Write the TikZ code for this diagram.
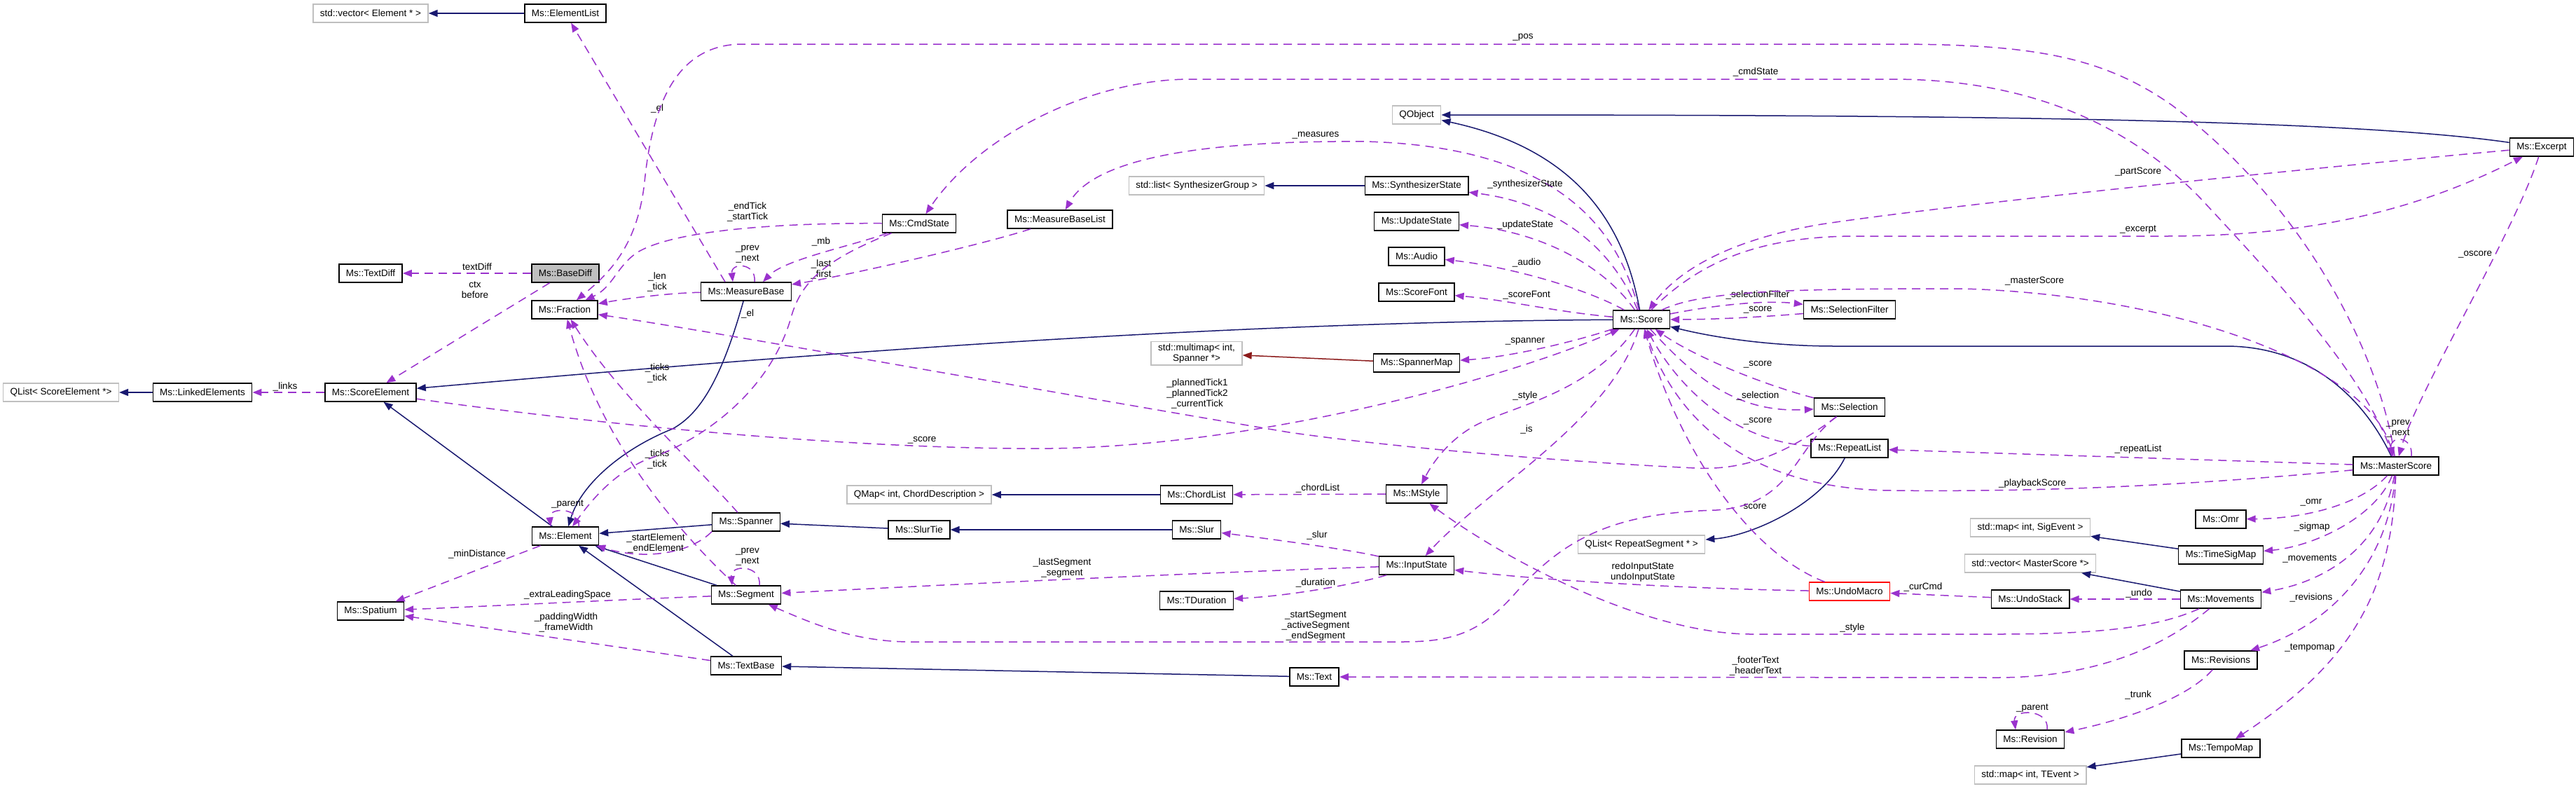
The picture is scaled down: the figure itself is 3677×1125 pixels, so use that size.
\documentclass[tikz,border=0pt]{standalone}
\usepackage{fontspec}
\setmainfont{Liberation Sans}
\usepackage{xcolor}
\usepackage{tikz}
\usetikzlibrary{arrows.meta}
\definecolor{inhblue}{HTML}{191970}
\definecolor{usepurple}{HTML}{9A32CD}
\definecolor{tmplred}{HTML}{8B1A1A}
\definecolor{extgray}{HTML}{BFBFBF}

\begin{document}
\begin{tikzpicture}[
  x=1pt, y=-1pt,
  font=\fontsize{13.5}{15}\selectfont,
  cls/.style={
    rectangle, draw=black, line width=1.4pt, fill=white,
    minimum height=26pt, inner xsep=10pt, inner ysep=3pt, align=center
  },
  ext/.style={cls, draw=extgray},
  root/.style={cls, fill=extgray},
  inh/.style={-{Triangle[length=13pt,width=10pt]}, line width=1.5pt, draw=inhblue},
  tmpl/.style={inh, draw=tmplred},
  usage/.style={-{Triangle[length=13pt,width=10pt]}, line width=1.5pt, draw=usepurple,
    dash pattern=on 12pt off 8pt},
  lbl/.style={inner sep=0pt, align=center, text=black},
]
\fill[white] (0,0) rectangle (3677,1125);
\useasboundingbox (0,0) rectangle (3677,1125);

% Left block: diff, element hierarchy
\node[ext]  (vecelem)     at (529,19)   {std::vector< Element * >};
\node[cls]  (elementlist) at (807,19)   {Ms::ElementList};
\node[cls]  (textdiff)    at (529,390)  {Ms::TextDiff};
\node[root] (basediff)    at (807,390)  {Ms::BaseDiff};
\node[cls]  (fraction)    at (806,442)  {Ms::Fraction};
\node[ext]  (qlistse)     at (87,560)   {QList< ScoreElement *>};
\node[cls]  (linked)      at (289,560)  {Ms::LinkedElements};
\node[cls]  (scoreel)     at (529,560)  {Ms::ScoreElement};
\node[cls]  (element)     at (807,765)  {Ms::Element};
\node[cls]  (spatium)     at (529,872)  {Ms::Spatium};

% Middle-left column
\node[cls]  (cmdstate)    at (1312,319) {Ms::CmdState};
\node[cls]  (mblist)      at (1513,313) {Ms::MeasureBaseList};
\node[cls]  (measurebase) at (1065,416) {Ms::MeasureBase};
\node[cls]  (spanner)     at (1065,745) {Ms::Spanner};
\node[cls]  (segment)     at (1065,849) {Ms::Segment};
\node[cls]  (textbase)    at (1065,950) {Ms::TextBase};
\node[ext]  (qmapchord)   at (1312,706) {QMap< int, ChordDescription >};
\node[cls]  (slurtie)     at (1312,756) {Ms::SlurTie};

% Middle column
\node[ext]  (synthlist)   at (1708,265) {std::list< SynthesizerGroup >};
\node[ext]  (spmultimap)  at (1708,504) {std::multimap< int,\\Spanner *>};
\node[cls]  (chordlist)   at (1708,706) {Ms::ChordList};
\node[cls]  (slur)        at (1708,756) {Ms::Slur};
\node[cls]  (tduration)   at (1708,857) {Ms::TDuration};
\node[cls]  (text)        at (1876,966) {Ms::Text};

% Score column
\node[ext]  (qobject)     at (2022,164) {QObject};
\node[cls]  (synthstate)  at (2022,265) {Ms::SynthesizerState};
\node[cls]  (updatestate) at (2022,316) {Ms::UpdateState};
\node[cls]  (audio)       at (2022,366) {Ms::Audio};
\node[cls]  (scorefont)   at (2022,417) {Ms::ScoreFont};
\node[cls]  (spannermap)  at (2022,518) {Ms::SpannerMap};
\node[cls]  (mstyle)      at (2022,705) {Ms::MStyle};
\node[cls]  (inputstate)  at (2022,807) {Ms::InputState};
\node[cls]  (score)       at (2343,456) {Ms::Score};
\node[ext]  (qlistrep)    at (2343,777) {QList< RepeatSegment * >};
\node[cls]  (selfilter)   at (2640,442) {Ms::SelectionFilter};
\node[cls]  (selection)   at (2640,581) {Ms::Selection};
\node[cls]  (repeatlist)  at (2640,640) {Ms::RepeatList};
\node[cls, draw=red] (undomacro) at (2640,844) {Ms::UndoMacro};

% Right block: master score
\node[cls]  (excerpt)     at (3628,210) {Ms::Excerpt};
\node[cls]  (masterscore) at (3420,665) {Ms::MasterScore};
\node[cls]  (omr)         at (3170,741) {Ms::Omr};
\node[ext]  (sigmapbase)  at (2898,753) {std::map< int, SigEvent >};
\node[cls]  (timesigmap)  at (3170,792) {Ms::TimeSigMap};
\node[ext]  (vecmaster)   at (2898,804) {std::vector< MasterScore *>};
\node[cls]  (undostack)   at (2898,855) {Ms::UndoStack};
\node[cls]  (movements)   at (3170,855) {Ms::Movements};
\node[cls]  (revisions)   at (3170,942) {Ms::Revisions};
\node[cls]  (revision)    at (2898,1055) {Ms::Revision};
\node[cls]  (tempomap)    at (3170,1068) {Ms::TempoMap};
\node[ext]  (teventmap)   at (2898,1106) {std::map< int, TEvent >};

% Inheritance
\draw[inh] (elementlist) -- (vecelem);
\draw[inh] (linked) -- (qlistse);
\draw[inh] (element) -- (scoreel);
\draw[inh] (score) .. controls (1700,460) and (1100,510) .. (scoreel);
\draw[inh] (score) .. controls (2320,330) and (2260,215) .. (qobject);
\draw[inh] (excerpt) .. controls (3350,170) and (2800,164) .. (qobject);
\draw[inh] (masterscore) .. controls (3370,560) and (3290,494) .. (3177,494) -- (2620,494)
  .. controls (2520,494) and (2440,480) .. (score);
\draw[inh] (measurebase) .. controls (1030,540) and (1000,590) .. (960,612)
  .. controls (890,640) and (830,690) .. (element);
\draw[inh] (spanner) -- (element);
\draw[inh] (segment) -- (element);
\draw[inh] (textbase) -- (element);
\draw[inh] (slurtie) -- (spanner);
\draw[inh] (slur) -- (slurtie);
\draw[inh] (text) -- (textbase);
\draw[inh] (chordlist) -- (qmapchord);
\draw[inh] (synthstate) -- (synthlist);
\draw[tmpl] (spannermap) -- (spmultimap);
\draw[inh] (repeatlist) .. controls (2600,720) and (2500,765) .. (qlistrep);
\draw[inh] (timesigmap) -- (sigmapbase);
\draw[inh] (movements) -- (vecmaster);
\draw[inh] (tempomap) -- (teventmap);

% Usage: left block
\draw[usage] (basediff) -- (textdiff) node[lbl] at (681,381) {textDiff};
\draw[usage] (basediff) -- (scoreel) node[lbl] at (678,414) {ctx\\before};
\draw[usage] (scoreel) -- (linked) node[lbl] at (407,552) {\_links};
\draw[usage] ([xshift=-30pt]measurebase.north) -- (elementlist) node[lbl] at (938,155) {\_el};
\draw[usage] (element) -- (spatium) node[lbl] at (681,791) {\_minDistance};
\draw[usage] (segment) .. controls (900,855) and (700,865) .. (spatium)
  node[lbl] at (810,849) {\_extraLeadingSpace};
\draw[usage] (textbase) -- (spatium) node[lbl] at (808,888) {\_paddingWidth\\\_frameWidth};
\draw[usage] ([xshift=19pt]element.north) .. controls +(3,-28) and +(-3,-28) .. ([xshift=-21pt]element.north)
  node[lbl] at (810,720) {\_parent};
\draw[usage] (spanner.south west) .. controls (985,790) and (920,800) .. (element)
  node[lbl] at (936,775) {\_startElement\\\_endElement};
\draw[usage] (spanner) .. controls (990,660) and (880,560) .. (fraction) node[lbl] at (938,532) {\_ticks\\\_tick};
\draw[usage] (segment) .. controls (980,770) and (860,640) .. (fraction) node[lbl] at (938,655) {\_ticks\\\_tick};
\draw[usage] ([xshift=19pt]segment.north) .. controls +(3,-30) and +(-3,-30) .. ([xshift=-20pt]segment.north)
  node[lbl] at (1067,795) {\_prev\\\_next};
\draw[usage] (measurebase) .. controls (960,418) and (900,425) .. (fraction) node[lbl] at (938,402) {\_len\\\_tick};
\draw[usage] ([xshift=12pt]measurebase.north) .. controls +(3,-28) and +(-3,-28) .. ([xshift=-19pt]measurebase.north)
  node[lbl] at (1067,363) {\_prev\\\_next};
\draw[usage] ([xshift=8pt]cmdstate.south west) .. controls (1220,350) and (1120,370) .. ([xshift=24pt]measurebase.north)
  node[lbl] at (1172,345) {\_mb};
\draw[usage] (mblist) .. controls (1400,350) and (1200,395) .. (measurebase) node[lbl] at (1172,384) {\_last\\\_first};
\draw[usage] (cmdstate) .. controls (1100,318) and (960,330) .. (910,360)
  .. controls (880,380) and (875,410) .. (fraction) node[lbl] at (1067,302) {\_endTick\\\_startTick};
\draw[usage] ([xshift=14pt]cmdstate.south west) .. controls (1180,370) and (1145,400) .. (1130,450)
  .. controls (1100,560) and (1000,630) .. (920,657) .. controls (870,680) and (840,720) .. (element)
  node[lbl] at (1067,448) {\_el};

% Usage: long top routes from MasterScore
\draw[usage] (masterscore) .. controls (3400,520) and (3300,300) .. (3100,150)
  .. controls (3000,80) and (2900,63) .. (2700,63) -- (1060,63)
  .. controls (960,63) and (930,160) .. (920,260) .. controls (910,350) and (870,390) .. (fraction)
  node[lbl] at (2174,53) {\_pos};
\draw[usage] (masterscore) .. controls (3380,540) and (3250,400) .. (3140,282)
  .. controls (3040,180) and (2900,113) .. (2700,113) -- (1700,113)
  .. controls (1560,113) and (1400,190) .. (cmdstate) node[lbl] at (2506,103) {\_cmdState};

% Usage: around Score
\draw[usage] (score) .. controls (2310,330) and (2230,210) .. (1950,202)
  .. controls (1700,200) and (1560,230) .. (mblist) node[lbl] at (1878,193) {\_measures};
\draw[usage] (score) .. controls (2300,350) and (2220,290) .. (synthstate) node[lbl] at (2177,263) {\_synthesizerState};
\draw[usage] (score) .. controls (2290,380) and (2200,330) .. (updatestate) node[lbl] at (2177,321) {\_updateState};
\draw[usage] (score) .. controls (2260,410) and (2150,380) .. (audio) node[lbl] at (2179,375) {\_audio};
\draw[usage] (score) .. controls (2220,445) and (2150,428) .. (scorefont) node[lbl] at (2179,421) {\_scoreFont};
\draw[usage] (score) .. controls (2240,490) and (2150,510) .. (spannermap) node[lbl] at (2177,487) {\_spanner};
\draw[usage] (score) .. controls (2450,435) and (2520,428) .. (selfilter) node[lbl] at (2509,421) {\_selectionFilter};
\draw[usage] (selfilter) .. controls (2520,452) and (2450,456) .. (score) node[lbl] at (2509,442) {\_score};
\draw[usage] (score) .. controls (2270,560) and (2160,580) .. (2110,605)
  .. controls (2070,625) and (2045,660) .. (mstyle) node[lbl] at (2177,565) {\_style};
\draw[usage] (score) .. controls (2300,600) and (2120,700) .. (inputstate) node[lbl] at (2179,613) {\_is};
\draw[usage] (score) .. controls (2420,540) and (2480,590) .. (selection) node[lbl] at (2509,565) {\_selection};
\draw[usage] (selection) .. controls (2520,550) and (2420,510) .. (score) node[lbl] at (2509,520) {\_score};
\draw[usage] (repeatlist) .. controls (2480,630) and (2400,560) .. (score) node[lbl] at (2509,601) {\_score};
\draw[usage] (masterscore) .. controls (3100,695) and (2900,702) .. (2700,700)
  .. controls (2520,698) and (2400,620) .. (score) node[lbl] at (2901,690) {\_playbackScore};
\draw[usage] (undomacro) .. controls (2500,790) and (2400,650) .. (score) node[lbl] at (2505,723) {score};
\draw[usage] (scoreel) .. controls (900,612) and (1250,642) .. (1500,640)
  .. controls (1800,636) and (2150,540) .. (score) node[lbl] at (1316,628) {\_score};
\draw[usage] (selection) .. controls (2560,640) and (2500,672) .. (2420,668)
  .. controls (2250,660) and (2000,640) .. (1840,617) .. controls (1500,560) and (1000,470) .. (fraction)
  node[lbl] at (1709,562) {\_plannedTick1\\\_plannedTick2\\\_currentTick};

% Usage: input state and selection
\draw[usage] (inputstate) .. controls (1700,818) and (1400,832) .. (segment) node[lbl] at (1516,810) {\_lastSegment\\\_segment};
\draw[usage] (inputstate) .. controls (1950,830) and (1850,850) .. (tduration) node[lbl] at (1878,832) {\_duration};
\draw[usage] (inputstate) .. controls (1930,785) and (1820,770) .. (slur) node[lbl] at (1880,764) {\_slur};
\draw[usage] (mstyle) -- (chordlist) node[lbl] at (1881,697) {\_chordList};
\draw[usage] (undomacro) .. controls (2400,840) and (2200,828) .. (inputstate) node[lbl] at (2345,816) {redoInputState\\undoInputState};
\draw[usage] (selection) .. controls (2560,640) and (2560,720) .. (2450,728)
  .. controls (2300,732) and (2230,770) .. (2160,850) .. controls (2110,905) and (2070,916) .. (2000,916)
  -- (1300,916) .. controls (1220,916) and (1160,890) .. (segment)
  node[lbl] at (1878,893) {\_startSegment\\\_activeSegment\\\_endSegment};

% Usage: movements, undo
\draw[usage] (movements) .. controls (3080,895) and (3000,905) .. (2850,905) -- (2500,905)
  .. controls (2350,905) and (2150,800) .. (mstyle) node[lbl] at (2644,896) {\_style};
\draw[usage] (movements) .. controls (3080,930) and (2980,967) .. (2850,967) -- (text)
  node[lbl] at (2506,950) {\_footerText\\\_headerText};
\draw[usage] (movements) -- (undostack) node[lbl] at (3053,847) {\_undo};
\draw[usage] (undostack) -- (undomacro) node[lbl] at (2745,838) {\_curCmd};

% Usage: MasterScore and Excerpt
\draw[usage] (masterscore) .. controls (3370,720) and (3290,740) .. (omr) node[lbl] at (3299,717) {\_omr};
\draw[usage] (masterscore) .. controls (3390,740) and (3300,780) .. (timesigmap) node[lbl] at (3300,752) {\_sigmap};
\draw[usage] (masterscore) .. controls (3400,780) and (3320,830) .. (movements) node[lbl] at (3297,797) {\_movements};
\draw[usage] (masterscore) .. controls (3410,800) and (3330,890) .. (revisions) node[lbl] at (3299,853) {\_revisions};
\draw[usage] (masterscore) .. controls (3415,850) and (3350,950) .. (tempomap) node[lbl] at (3297,925) {\_tempomap};
\draw[usage] (revisions) .. controls (3120,1000) and (3020,1030) .. (revision) node[lbl] at (3052,992) {\_trunk};
\draw[usage] ([xshift=24pt]revision.north) .. controls +(4,-30) and +(-4,-30) .. ([xshift=-21pt]revision.north)
  node[lbl] at (2901,1011) {\_parent};
\draw[usage] ([xshift=22pt]masterscore.north) .. controls +(3,-30) and +(-3,-30) .. ([xshift=-6pt]masterscore.north)
  node[lbl] at (3423,612) {\_prev\\\_next};
\draw[usage] (excerpt) .. controls (3590,330) and (3450,560) .. (masterscore) node[lbl] at (3533,363) {\_oscore};
\draw[usage] (score) .. controls (2430,415) and (2550,412) .. (2800,412)
  .. controls (3100,420) and (3380,520) .. (masterscore) node[lbl] at (2904,401) {\_masterScore};
\draw[usage] (excerpt) .. controls (3300,240) and (2800,290) .. (2600,320)
  .. controls (2480,340) and (2400,380) .. (score) node[lbl] at (3052,245) {\_partScore};
\draw[usage] (score) .. controls (2420,380) and (2500,337) .. (2650,337) -- (3090,337)
  .. controls (3300,337) and (3450,300) .. (excerpt) node[lbl] at (3052,328) {\_excerpt};
\draw[usage] (masterscore) -- (repeatlist) node[lbl] at (3052,641) {\_repeatList};
\end{tikzpicture}
\end{document}
